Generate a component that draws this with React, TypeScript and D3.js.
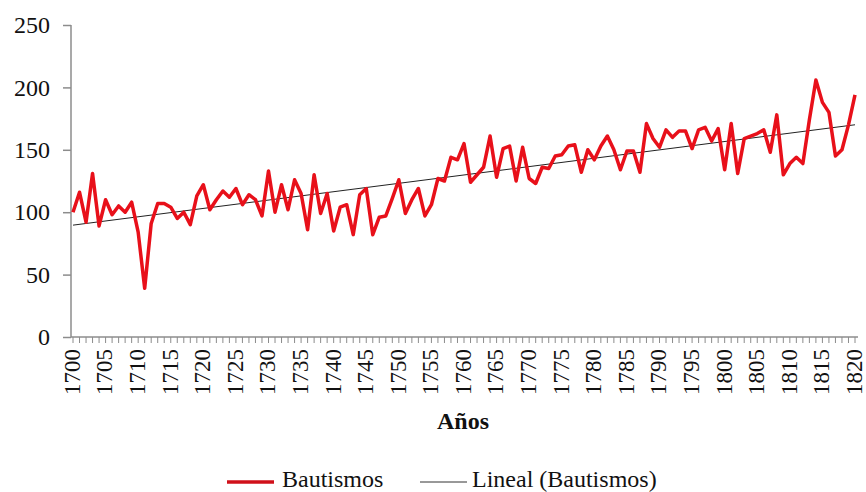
import { useEffect, useRef } from 'react';
import * as d3 from 'd3';

// Bautismos por año, 1700–1820
const years = d3.range(1700, 1821);
const bautismos = [
  100, 116, 92, 131, 89, 110, 98, 105, 100, 108,
  84, 39, 91, 107, 107, 104, 95, 100, 90, 113,
  122, 102, 110, 117, 112, 119, 106, 114, 110, 97,
  133, 100, 122, 102, 126, 115, 86, 130, 99, 115,
  85, 104, 106, 82, 114, 119, 82, 96, 97, 111,
  126, 99, 110, 119, 97, 106, 127, 125, 144, 142,
  155, 124, 130, 136, 161, 128, 151, 153, 125, 152,
  127, 123, 136, 135, 145, 146, 153, 154, 132, 150,
  142, 153, 161, 150, 134, 149, 149, 132, 171, 159,
  152, 166, 160, 165, 165, 151, 166, 168, 157, 167,
  134, 171, 131, 159, 161, 163, 166, 148, 178, 130,
  139, 144, 139, 174, 206, 188, 180, 145, 150, 170,
  194,
];
const yTicks = [0, 50, 100, 150, 200, 250];
const xLabelYears = years.filter(y => (y - 1700) % 5 === 0);
const legendLabels = ['Bautismos', 'Lineal (Bautismos)'];

export default function App() {
  const ref = useRef<SVGSVGElement>(null);

  useEffect(() => {
    const svg = d3.select(ref.current);
    svg.selectAll('*').remove();

    const font = '"Liberation Serif", "Times New Roman", serif';
    const axisColor = '#8c8c8c';
    const x = d3.scaleLinear().domain([1700, 1820]).range([73, 855]);
    const y = d3.scaleLinear().domain([0, 250]).range([337, 25]);

    const data = years.map((yr, i) => ({ yr, v: bautismos[i] }));

    // linear trend (least squares), like Excel's "Lineal"
    const mx = d3.mean(data, d => d.yr)!;
    const my = d3.mean(data, d => d.v)!;
    const slope = d3.sum(data, d => (d.yr - mx) * (d.v - my)) / d3.sum(data, d => (d.yr - mx) ** 2);
    const trend = (yr: number) => my + slope * (yr - mx);

    // y axis
    svg.append('g').attr('transform', 'translate(71,0)')
      .call(d3.axisLeft(y).tickValues(yTicks).tickSize(8).tickPadding(13).tickFormat(d => `${d}`))
      .call(g => g.select('.domain').attr('stroke', axisColor).attr('stroke-width', 1.5).attr('d', `M0,${y(250)}V${y(0)}`))
      .call(g => g.selectAll('line').attr('stroke', axisColor).attr('stroke-width', 1.5))
      .call(g => g.selectAll('text').attr('fill', '#111').attr('font-size', 24).attr('font-family', font));

    // x axis
    const xg = svg.append('g').attr('transform', `translate(0,${y(0)})`);
    xg.append('line').attr('x1', 71).attr('x2', 858).attr('stroke', axisColor).attr('stroke-width', 1.5);
    xg.selectAll('.minor').data(years).enter().append('line')
      .attr('x1', d => x(d)).attr('x2', d => x(d)).attr('y1', 0).attr('y2', 6)
      .attr('stroke', axisColor).attr('stroke-width', 1);
    xg.selectAll('.lbl').data(xLabelYears).enter().append('text')
      .attr('transform', d => `translate(${x(d)},12) rotate(-90)`)
      .attr('text-anchor', 'end').attr('dy', '0.3em')
      .attr('font-size', 23).attr('font-family', font).attr('fill', '#111')
      .text(d => d);

    // trend line
    svg.append('line')
      .attr('x1', x(1700)).attr('y1', y(trend(1700)))
      .attr('x2', x(1820)).attr('y2', y(trend(1820)))
      .attr('stroke', '#222').attr('stroke-width', 1);

    // series
    const line = d3.line<{ yr: number; v: number }>().x(d => x(d.yr)).y(d => y(d.v));
    svg.append('path').datum(data).attr('d', line)
      .attr('fill', 'none').attr('stroke', '#e8101a').attr('stroke-width', 3.5)
      .attr('stroke-linejoin', 'round');

    // axis title
    svg.append('text').attr('x', 463).attr('y', 429).attr('text-anchor', 'middle')
      .attr('font-size', 24).attr('font-weight', 'bold').attr('font-family', font).attr('fill', '#111')
      .text('Años');

    // legend
    const lg = svg.append('g').attr('font-family', font).attr('font-size', 24).attr('fill', '#111');
    lg.append('line').attr('x1', 227).attr('x2', 274).attr('y1', 482).attr('y2', 482)
      .attr('stroke', '#d0101a').attr('stroke-width', 3.5);
    lg.append('text').attr('x', 282).attr('y', 487).text(legendLabels[0]);
    lg.append('line').attr('x1', 420).attr('x2', 467).attr('y1', 482).attr('y2', 482)
      .attr('stroke', '#333').attr('stroke-width', 1);
    lg.append('text').attr('x', 472).attr('y', 487).text(legendLabels[1]);
  }, []);

  return (
    <svg ref={ref} width={866} height={492}
      style={{ position: 'absolute', left: 0, top: 0, background: '#fff', display: 'block' }} />
  );
}
